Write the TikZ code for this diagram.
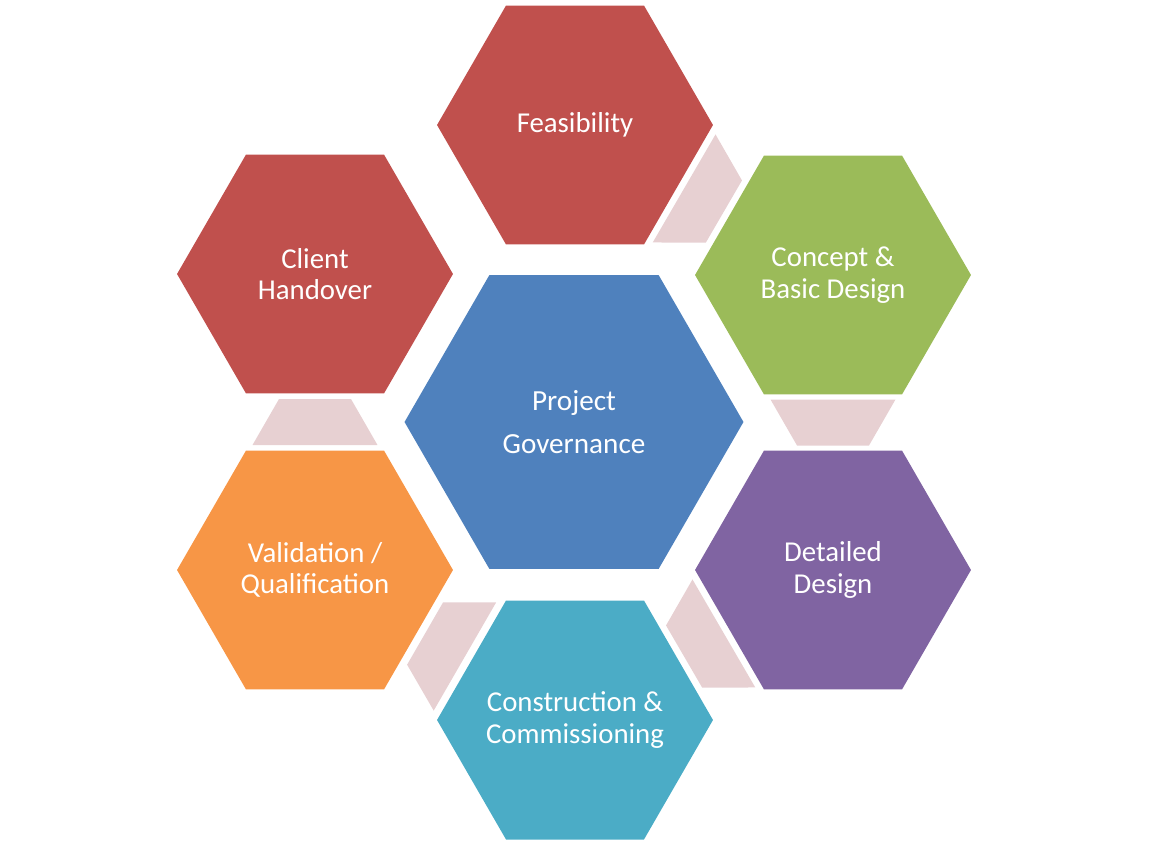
\documentclass[tikz,border=0pt]{standalone}
\usepackage{fontspec}
\setmainfont{Carlito}
\usetikzlibrary{shapes.geometric,calc}

\definecolor{hexred}{HTML}{C0504D}
\definecolor{hexgreen}{HTML}{9BBB59}
\definecolor{hexpurple}{HTML}{8064A2}
\definecolor{hexaqua}{HTML}{4BACC6}
\definecolor{hexorange}{HTML}{F79646}
\definecolor{hexblue}{HTML}{4F81BD}
\definecolor{linkpink}{HTML}{E7D0D2}

% trapezoid link from hexagon #1 (wide side) to hexagon #2 (narrow side)
\newcommand{\hexlink}[2]{%
  \coordinate (m) at ($(#1)!.5!(#2)$);
  \coordinate (p) at ($(m)!.46cm!(#1)$);
  \coordinate (q) at ($(m)!.46cm!(#2)$);
  \fill[linkpink] ($(p)!1.25cm!90:(m)$) -- ($(q)!.72cm!-90:(m)$)
    -- ($(q)!.72cm!90:(m)$) -- ($(p)!1.25cm!-90:(m)$) -- cycle;
}

\begin{document}
\begin{tikzpicture}[x=0.02cm,y=-0.02cm,
    hexbox/.style={regular polygon, regular polygon sides=6, minimum size=5.52cm,
      inner sep=-20pt, text=white, align=center, font=\fontsize{16.4}{18}\selectfont},
    hexbig/.style={hexbox, minimum size=6.78cm, font=\fontsize{16.6}{24}\selectfont}]
  \useasboundingbox (0,0) rectangle (1149,845);

  \node[hexbig, fill=hexblue] (gov) at (574,422) {Project\\Governance};
  \node[hexbox, fill=hexred] (feas) at (575,125) {Feasibility};
  \node[hexbox, fill=hexgreen] (concept) at (833,275) {Concept \&\\Basic Design};
  \node[hexbox, fill=hexpurple] (detail) at (833,570) {Detailed\\Design};
  \node[hexbox, fill=hexaqua] (constr) at (575,720) {Construction \&\\Commissioning};
  \node[hexbox, fill=hexorange] (valid) at (315,570) {Validation /\\Qualification};
  \node[hexbox, fill=hexred] (client) at (315,274) {Client\\Handover};

  \hexlink{feas}{concept}
  \hexlink{concept}{detail}
  \hexlink{detail}{constr}
  \hexlink{constr}{valid}
  \hexlink{valid}{client}
\end{tikzpicture}
\end{document}
